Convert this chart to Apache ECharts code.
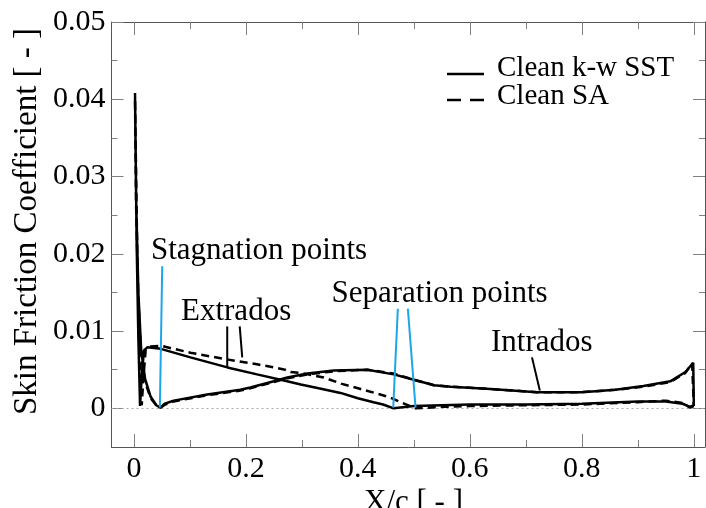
<!DOCTYPE html>
<html>
<head>
<meta charset="utf-8">
<script src="https://cdn.jsdelivr.net/npm/echarts@6/dist/echarts.min.js"></script>
<style>
html,body{margin:0;padding:0;background:#fff;}
#chart{width:706px;height:508px;}
</style>
</head>
<body>
<div id="chart"></div>
<script>
// ---- data (x/c, Cf) ----
// k-w SST: extrados (upper surface) from trailing edge to leading edge
const sstUpper = [[1.0,0.0004],[0.993,0.0002],[0.98,0.0006],[0.95,0.0009],[0.9,0.0009],[0.8,0.0006],[0.7,0.0005],[0.6,0.0005],[0.5,0.0003],[0.464,0.0],
  [0.445,0.0005],[0.428,0.0008],[0.4,0.0013],[0.369,0.0020],[0.33,0.0026],[0.298,0.0031],[0.268,0.0036],[0.22,0.0044],[0.167,0.0053],[0.101,0.0066],
  [0.048,0.0077],[0.024,0.0079],[0.018,0.0075],[0.014,0.0042],[0.011,0.0003],[0.008,0.009],[0.005,0.021],[0.002,0.0408]];
// k-w SST: intrados (lower surface) from leading edge to trailing edge
const sstLower = [[0.001,0.0408],[0.004,0.027],[0.008,0.015],[0.013,0.0075],[0.02,0.0038],[0.03,0.0015],[0.04,0.0004],[0.047,0.0001],[0.055,0.0006],
  [0.071,0.0010],[0.131,0.0018],[0.19,0.0024],[0.208,0.0027],[0.25,0.0035],[0.274,0.0040],[0.31,0.0045],[0.357,0.0049],[0.417,0.0050],[0.464,0.0044],
  [0.5,0.0037],[0.536,0.0030],[0.566,0.0028],[0.637,0.0025],[0.72,0.0021],[0.8,0.0021],[0.86,0.0024],[0.91,0.0029],[0.958,0.0035],[0.985,0.0047],[0.999,0.0059]];
// SA: extrados from trailing edge to leading edge
const saUpper = [[1.0,0.0003],[0.993,0.0001],[0.98,0.0007],[0.95,0.0010],[0.9,0.0008],[0.8,0.0005],[0.7,0.0004],[0.6,0.0003],[0.55,0.0002],[0.503,0.0],
  [0.48,0.0007],[0.458,0.0014],[0.43,0.0020],[0.405,0.0025],[0.37,0.0032],[0.339,0.0040],[0.298,0.0046],[0.28,0.0047],[0.27,0.0050],[0.25,0.0053],
  [0.22,0.0057],[0.161,0.0064],[0.101,0.0072],[0.048,0.0081],[0.03,0.0080],[0.021,0.0075],[0.017,0.0040],[0.014,0.0004],[0.01,0.007],[0.006,0.020],[0.002,0.0400]];
// SA: intrados from leading edge to trailing edge
const saLower = [[0.001,0.0400],[0.004,0.026],[0.008,0.014],[0.013,0.0068],[0.02,0.0034],[0.03,0.0013],[0.04,0.0004],[0.048,0.0001],[0.056,0.0005],
  [0.071,0.0009],[0.131,0.0017],[0.19,0.0023],[0.208,0.0026],[0.25,0.0034],[0.274,0.0039],[0.31,0.0044],[0.357,0.0048],[0.417,0.0050],[0.464,0.0045],
  [0.5,0.0037],[0.536,0.0030],[0.566,0.0028],[0.637,0.0025],[0.72,0.0021],[0.8,0.0021],[0.86,0.0024],[0.91,0.0028],[0.958,0.0034],[0.985,0.0046],[0.997,0.0058]];

// annotation pointers (x/c, Cf)
const stagnationPointer = [[0.0506,0.0184],[0.0464,0.0001]];
const separationPointerSST = [[0.4714,0.0129],[0.4632,0.0001]];
const separationPointerSA = [[0.4893,0.0129],[0.503,0.0001]];
const extradosPointer1 = [[0.1667,0.0106],[0.1667,0.0053]];
const extradosPointer2 = [[0.189,0.0106],[0.1935,0.0066]];
const intradosPointer = [[0.711,0.0066],[0.725,0.0023]];

// ticks
const xMajor = [0,0.2,0.4,0.6,0.8,1];
const xMinor = [0.1,0.3,0.5,0.7,0.9];
const yMajor = [0,0.01,0.02,0.03,0.04,0.05];
const yMinor = [0.005,0.015,0.025,0.035,0.045];

const seriesNames = ['Clean k-w SST','Clean SA'];

// ---- chart ----
const FONT = '"Liberation Serif","Times New Roman",serif';
const AXC = '#555';
const TKC = '#808080';
const fmt = v => String(parseFloat(Number(v).toFixed(4)));

function xAx(pos, values, len, showLine, showLabel) {
  return {
    type:'value', position:pos, min:-0.04, max:1.02,
    axisLine:{show:showLine, onZero:false, lineStyle:{color:AXC, width:1}},
    axisTick:{show:true, inside:true, length:len, customValues:values, lineStyle:{color:TKC, width:1}},
    axisLabel:{show:showLabel, customValues:values, formatter:fmt, fontFamily:FONT, fontSize:30, color:'#000', margin:7},
    splitLine:{show:false}
  };
}
function yAx(pos, values, len, showLine, showLabel) {
  return {
    type:'value', position:pos, min:-0.005, max:0.05,
    axisLine:{show:showLine, onZero:false, lineStyle:{color:AXC, width:1}},
    axisTick:{show:true, inside:true, length:len, customValues:values, lineStyle:{color:TKC, width:1}},
    axisLabel:{show:showLabel, customValues:values, formatter:fmt, fontFamily:FONT, fontSize:30, color:'#000', margin:6},
    splitLine:{show:false}
  };
}

function pointer(data, color) {
  return {type:'line', data:data, symbol:'none', silent:true, z:4,
    lineStyle:{color:color, width:2}, itemStyle:{color:color}};
}
function txt(x, y, s, size, extra) {
  return Object.assign({type:'text', x:x, y:y, style:{text:s, fontFamily:FONT, fontSize:size, fill:'#000',
    verticalAlign:'middle', textVerticalAlign:'middle'}}, extra || {});
}

const BLUE = '#1ea5e6';
const chart = echarts.init(document.getElementById('chart'), null, {renderer:'canvas'});
chart.setOption({
  animation:false,
  backgroundColor:'#fff',
  grid:{left:111.5, right:1, top:22, bottom:61, containLabel:false},
  xAxis:[xAx('bottom', xMajor, 13, true, true), xAx('bottom', xMinor, 7, false, false),
         xAx('top', xMajor, 13, true, false), xAx('top', xMinor, 7, false, false)],
  yAxis:[yAx('left', yMajor, 12, true, true), yAx('left', yMinor, 6, false, false),
         yAx('right', yMajor, 12, true, false), yAx('right', yMinor, 6, false, false)],
  graphic:[
    {type:'text', x:27, y:221.5, rotation:Math.PI/2, style:{text:'Skin Friction Coefficient [ - ]', fontFamily:FONT, fontSize:33, fill:'#000', align:'center', verticalAlign:'middle', textAlign:'center', textVerticalAlign:'middle'}},
    {type:'text', x:413.5, y:503, style:{text:'X/c [ - ]', fontFamily:FONT, fontSize:31, fill:'#000', align:'center', verticalAlign:'middle', textAlign:'center', textVerticalAlign:'middle'}},
    txt(151, 250.5, 'Stagnation points', 31),
    txt(181, 312, 'Extrados', 31),
    txt(331.5, 293.5, 'Separation points', 31),
    txt(491, 342.5, 'Intrados', 31),
    // legend
    {type:'line', shape:{x1:447, y1:74, x2:484, y2:74}, style:{stroke:'#000', lineWidth:2.5}},
    {type:'line', shape:{x1:447, y1:100, x2:484, y2:100}, style:{stroke:'#000', lineWidth:2.5, lineDash:[14,9]}},
    txt(497, 68.5, seriesNames[0], 29),
    txt(497, 96, seriesNames[1], 29)
  ],
  series:[
    {name:seriesNames[0], type:'line', symbol:'none', z:3,
     data: sstUpper.concat(sstLower, [sstUpper[0]]),
     lineStyle:{color:'#000', width:2.5}, itemStyle:{color:'#000'},
     markLine:{silent:true, symbol:'none', label:{show:false}, z:1,
       lineStyle:{type:[2,3], color:'#aaa', width:1}, data:[{yAxis:0}]}},
    {name:seriesNames[1], type:'line', symbol:'none', z:3,
     data: saUpper.concat(saLower, [saUpper[0]]),
     lineStyle:{color:'#000', width:2.5, type:[8,5]}, itemStyle:{color:'#000'}},
    pointer(stagnationPointer, BLUE),
    pointer(separationPointerSST, BLUE),
    pointer(separationPointerSA, BLUE),
    pointer(extradosPointer1, '#000'),
    pointer(extradosPointer2, '#000'),
    pointer(intradosPointer, '#000')
  ]
});
</script>
</body>
</html>
